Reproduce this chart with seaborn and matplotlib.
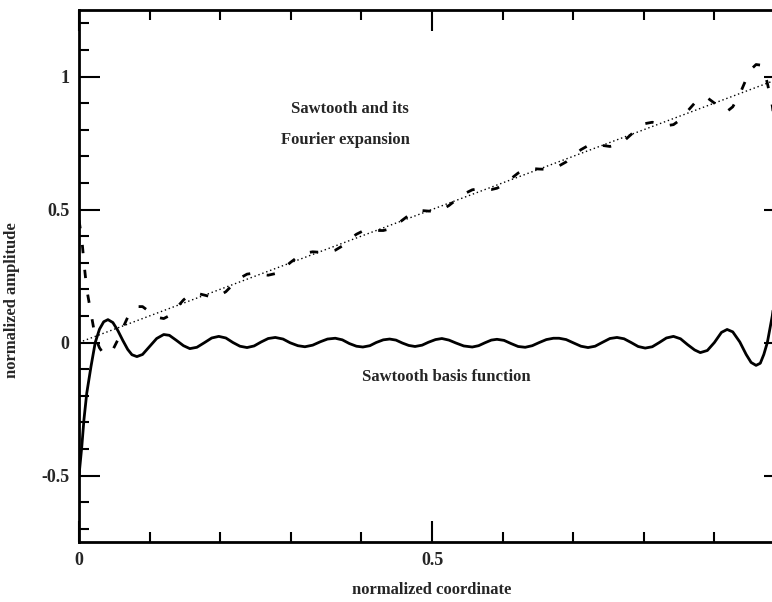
import matplotlib
matplotlib.use('Agg')
import matplotlib.pyplot as plt
from matplotlib.ticker import MultipleLocator, FuncFormatter
import seaborn as sns

# 锯齿基函数（实线）
basis_x = [0.000, 0.004, 0.007, 0.011, 0.017, 0.023, 0.029, 0.035, 0.041, 0.048,
           0.055, 0.062, 0.069, 0.075, 0.082, 0.090, 0.100, 0.110, 0.120, 0.128,
           0.138, 0.148, 0.157, 0.167, 0.178, 0.188, 0.198, 0.208, 0.218, 0.228,
           0.238, 0.248, 0.258, 0.268, 0.278, 0.289, 0.299, 0.310, 0.320, 0.331,
           0.342, 0.352, 0.363, 0.373, 0.383, 0.393, 0.402, 0.412, 0.421, 0.431,
           0.440, 0.449, 0.458, 0.467, 0.476, 0.486, 0.495, 0.505, 0.514, 0.524,
           0.534, 0.545, 0.557, 0.566, 0.575, 0.584, 0.592, 0.602, 0.612, 0.622,
           0.632, 0.642, 0.652, 0.662, 0.672, 0.680, 0.690, 0.700, 0.711, 0.721,
           0.731, 0.741, 0.752, 0.762, 0.772, 0.782, 0.792, 0.802, 0.812, 0.822,
           0.832, 0.842, 0.852, 0.862, 0.872, 0.880, 0.890, 0.900, 0.910, 0.918,
           0.926, 0.936, 0.945, 0.952, 0.959, 0.965, 0.970, 0.975, 0.982, 0.988,
           0.994, 1.000]
basis_y = [-0.500, -0.390, -0.290, -0.190, -0.090, 0.000, 0.050, 0.078, 0.086, 0.075,
           0.045, 0.008, -0.026, -0.046, -0.053, -0.045, -0.015, 0.015, 0.030, 0.027,
           0.008, -0.012, -0.023, -0.018, 0.000, 0.017, 0.023, 0.017, 0.000, -0.014,
           -0.019, -0.013, 0.002, 0.015, 0.019, 0.013, -0.001, -0.012, -0.016, -0.010,
           0.003, 0.013, 0.016, 0.010, -0.004, -0.014, -0.017, -0.012, 0.000, 0.010,
           0.013, 0.009, -0.002, -0.011, -0.015, -0.010, 0.001, 0.011, 0.015, 0.009,
           -0.002, -0.013, -0.017, -0.012, -0.001, 0.009, 0.012, 0.008, -0.004, -0.015,
           -0.018, -0.012, 0.000, 0.011, 0.016, 0.016, 0.011, -0.001, -0.014, -0.019,
           -0.014, 0.000, 0.015, 0.019, 0.014, 0.000, -0.015, -0.021, -0.016, 0.000,
           0.017, 0.023, 0.014, -0.008, -0.028, -0.038, -0.030, 0.000, 0.038, 0.049,
           0.040, 0.002, -0.045, -0.075, -0.086, -0.078, -0.045, 0.000, 0.100, 0.220,
           0.360, 0.500]

# 锯齿的傅里叶展开（虚线）
fourier_x = [0.000, 0.004, 0.007, 0.011, 0.017, 0.023, 0.029, 0.035, 0.041, 0.048,
             0.055, 0.062, 0.069, 0.075, 0.082, 0.090, 0.100, 0.110, 0.120, 0.128,
             0.138, 0.148, 0.157, 0.167, 0.178, 0.188, 0.198, 0.208, 0.218, 0.228,
             0.238, 0.248, 0.258, 0.268, 0.278, 0.289, 0.299, 0.310, 0.320, 0.331,
             0.342, 0.352, 0.363, 0.373, 0.383, 0.393, 0.402, 0.412, 0.421, 0.431,
             0.440, 0.449, 0.458, 0.467, 0.476, 0.486, 0.495, 0.505, 0.514, 0.524,
             0.534, 0.545, 0.557, 0.566, 0.575, 0.584, 0.592, 0.602, 0.612, 0.622,
             0.632, 0.642, 0.652, 0.662, 0.672, 0.680, 0.690, 0.700, 0.711, 0.721,
             0.731, 0.741, 0.752, 0.762, 0.772, 0.782, 0.792, 0.802, 0.812, 0.822,
             0.832, 0.842, 0.852, 0.862, 0.872, 0.880, 0.890, 0.900, 0.910, 0.918,
             0.926, 0.936, 0.945, 0.952, 0.959, 0.965, 0.971, 0.975, 0.982, 0.988,
             0.994, 1.000]
fourier_y = [0.460, 0.390, 0.300, 0.200, 0.110, 0.020, -0.020, -0.043, -0.045, -0.027,
             0.010, 0.054, 0.095, 0.121, 0.135, 0.135, 0.115, 0.095, 0.090, 0.101,
             0.130, 0.160, 0.180, 0.185, 0.178, 0.171, 0.175, 0.191, 0.218, 0.242,
             0.257, 0.261, 0.256, 0.253, 0.259, 0.276, 0.300, 0.322, 0.336, 0.341,
             0.339, 0.339, 0.347, 0.363, 0.387, 0.407, 0.419, 0.424, 0.421, 0.421,
             0.427, 0.440, 0.460, 0.478, 0.491, 0.496, 0.494, 0.494, 0.499, 0.515,
             0.536, 0.558, 0.574, 0.578, 0.576, 0.575, 0.580, 0.594, 0.616, 0.637,
             0.650, 0.654, 0.652, 0.651, 0.656, 0.664, 0.679, 0.701, 0.725, 0.740,
             0.745, 0.741, 0.737, 0.743, 0.758, 0.782, 0.807, 0.823, 0.828, 0.822,
             0.815, 0.819, 0.838, 0.870, 0.900, 0.918, 0.920, 0.900, 0.872, 0.869,
             0.886, 0.934, 0.990, 1.027, 1.045, 1.043, 1.016, 0.975, 0.890, 0.770,
             0.630, 0.500]

# 原始锯齿（点线）
saw_x = [0.0, 1.0]
saw_y = [0.0, 1.0]

y_ticks = [-0.5, 0, 0.5, 1]
x_ticks = [0, 0.5]

sns.set_style("ticks")
plt.rcParams['font.family'] = ['Liberation Serif', 'DejaVu Serif']
plt.rcParams['font.weight'] = 'bold'
plt.rcParams['axes.unicode_minus'] = False

fig = plt.figure(figsize=(7.72, 6.02), dpi=100)
# 坐标轴右边缘超出画布（原图右侧被裁掉）
ax = fig.add_axes([79 / 772, 60 / 602, 706 / 772, 532 / 602])

sns.lineplot(x=saw_x, y=saw_y, ax=ax, color='black', linewidth=1.0,
             linestyle=(0, (1, 2)), sort=False)
sns.lineplot(x=fourier_x, y=fourier_y, ax=ax, color='black', linewidth=2.0,
             linestyle=(0, (3, 6)), sort=False)
sns.lineplot(x=basis_x, y=basis_y, ax=ax, color='black', linewidth=2.0,
             sort=False)

ax.set_xlim(0, 1)
ax.set_ylim(-0.75, 1.25)
ax.set_xticks(x_ticks)
ax.set_yticks(y_ticks)
ax.xaxis.set_minor_locator(MultipleLocator(0.1))
ax.yaxis.set_minor_locator(MultipleLocator(0.1))
ax.xaxis.set_major_formatter(FuncFormatter(lambda v, p: f"{v:g}"))
ax.yaxis.set_major_formatter(FuncFormatter(lambda v, p: f"{v:g}"))
ax.tick_params(which='both', direction='in', top=True, right=True,
               width=1.5, color='black', labelsize=13, pad=7)
ax.tick_params(which='major', length=15)
ax.tick_params(which='minor', length=7)
for s in ax.spines.values():
    s.set_linewidth(2)
    s.set_color('black')

ax.set_xlabel('normalized coordinate', fontsize=12, fontweight='bold')
ax.set_ylabel('normalized amplitude', fontsize=12, fontweight='bold')
ax.xaxis.set_label_coords(0.5, -0.076)
ax.yaxis.set_label_coords(-0.084, 0.455)

ax.text(0.384, 0.876, 'Sawtooth and its', fontsize=12, fontweight='bold',
        ha='center', va='center')
ax.text(0.378, 0.763, 'Fourier expansion', fontsize=12, fontweight='bold',
        ha='center', va='center')
ax.text(0.52, -0.13, 'Sawtooth basis function', fontsize=12, fontweight='bold',
        ha='center', va='center')

fig.savefig('out.png', dpi=100)
plt.close(fig)
